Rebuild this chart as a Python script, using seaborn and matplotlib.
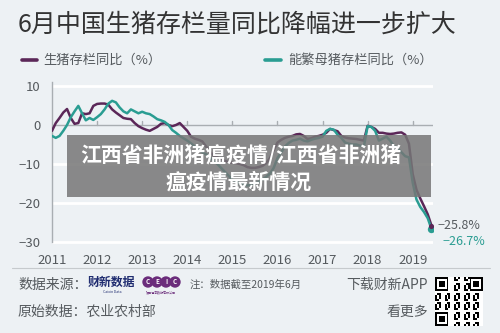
import numpy as np
import pandas as pd
import matplotlib
matplotlib.use("Agg")
import matplotlib.pyplot as plt
import seaborn as sns
from matplotlib.patches import Rectangle
from matplotlib.lines import Line2D

# ---------------- data ----------------
years = [2011, 2012, 2013, 2014, 2015, 2016, 2017, 2018, 2019]
year_labels = ["2011", "2012", "2013", "2014", "2015", "2016", "2017", "2018", "2019"]
y_ticks = [10, 0, -10, -20, -30]

hog_label = "生猪存栏同比（%）"
sow_label = "能繁母猪存栏同比（%）"

hog = [
    -1.5, 0.5, 1.8, 3.2, 4.1, 1.8, 0.3, 0.5, 3.0, 2.8, 3.0, 4.9,          # 2011
    5.4, 5.5, 5.5, 5.2, 4.0, 3.2, 2.5, 1.8, 1.6, 1.5, 0.5, -0.3,          # 2012
    -0.8, -1.2, -1.5, -1.0, -0.5, 0.3, 0.5, 0.0, -0.3, 0.0, 0.5, -0.5,    # 2013
    -1.5, -3.0, -3.5, -3.8, -4.2, -5.5, -6.8, -7.8, -8.3, -8.7, -9.2, -9.5,  # 2014
    -9.7, -9.8, -10.0, -10.3, -10.8, -11.0, -11.0, -10.8, -10.5, -9.8, -8.5, -6.5,  # 2015
    -4.5, -3.8, -3.3, -3.0, -2.8, -2.4, -2.3, -2.8, -3.6, -3.4, -3.0, -2.8,  # 2016
    -2.5, -2.0, -1.0, -1.3, -1.6, -2.8, -3.2, -3.4, -3.5, -3.6, -3.8, -4.0,  # 2017
    -0.2, -0.5, -1.0, -2.0, -2.0, -2.2, -2.3, -2.2, -2.0, -1.9, -2.5, -4.8,  # 2018
    -12.6, -16.6, -18.8, -20.8, -22.9, -25.8,                               # 2019
]
sow = [
    -2.8, -3.3, -2.8, -1.5, 0.0, 2.0, 3.5, 4.9, 3.0, 1.2, 1.8, 1.3,        # 2011
    2.0, 2.8, 4.0, 5.5, 6.2, 5.8, 4.5, 3.5, 3.0, 4.0, 3.5, 3.0,            # 2012
    3.4, 3.0, 2.8, 2.2, 1.5, 1.2, 0.8, 0.0, -1.3, -2.0, -2.8, -3.4,        # 2013
    -4.0, -4.7, -5.5, -6.2, -7.0, -7.5, -8.3, -9.2, -10.0, -11.0, -12.0, -13.0,  # 2014
    -14.0, -14.5, -15.0, -15.2, -15.5, -15.3, -15.0, -14.6, -14.0, -13.3, -12.5, -11.0,  # 2015
    -8.5, -7.0, -5.5, -4.6, -4.0, -3.8, -3.5, -4.0, -4.2, -3.8, -3.5, -3.3,  # 2016
    -3.0, -1.5, -1.0, -1.2, -2.5, -3.3, -4.5, -4.8, -5.0, -5.0, -5.3, -5.5,  # 2017
    -0.3, -0.5, -1.5, -4.0, -3.5, -3.0, -4.0, -5.4, -6.0, -7.0, -8.0, -8.3,  # 2018
    -14.8, -19.1, -21.0, -22.3, -23.9, -26.7,                               # 2019
]
month_pos = [2011 + i / 12 for i in range(len(hog))]

# ---------------- style ----------------
BG = "#edf1f4"
PURPLE = "#5b2758"
TEAL = "#2a9d92"
GRAY_TXT = "#555a5e"
AXIS_GRAY = "#a9aeb2"

sns.set_theme(style="white")
plt.rcParams["font.family"] = ["Noto Sans CJK SC", "DejaVu Sans"]
plt.rcParams["axes.unicode_minus"] = True

df = pd.DataFrame({"x": month_pos, hog_label: hog, sow_label: sow})
long = df.melt(id_vars="x", var_name="series", value_name="value")

W, H = 500, 333
fig = plt.figure(figsize=(5, 3.33), dpi=100, facecolor=BG)


def fx(px):
    return px / W


def fy(py):
    return 1 - py / H


ax = fig.add_axes([fx(52), fy(245.9), 381 / W, (245.9 - 82.1) / H])
ax.set_facecolor(BG)

for yv in [10, -10, -20, -30]:
    ax.axhline(yv, color="white", lw=2.0, zorder=0)
ax.axhline(0, color=AXIS_GRAY, lw=1.0, zorder=1)
for yr in years[1:]:
    ax.plot([yr, yr], [0, 0.9], color=AXIS_GRAY, lw=1.0, zorder=1)

sns.lineplot(data=long, x="x", y="value", hue="series",
             hue_order=[hog_label, sow_label],
             palette={hog_label: PURPLE, sow_label: TEAL},
             ax=ax, legend=False, linewidth=1.8, zorder=3)

# end markers and labels
ax.scatter([month_pos[-1]], [sow[-1]], s=28, color=TEAL, zorder=5, linewidths=0)
ax.scatter([month_pos[-1]], [hog[-1]], s=14, color=PURPLE, zorder=6, linewidths=0)
ax.annotate(f"{hog[-1]:.1f}%".replace("-", "−"), (month_pos[-1], hog[-1]),
            xytext=(4, 0), textcoords="offset points", ha="left", va="center",
            fontsize=9, color=GRAY_TXT, annotation_clip=False)
ax.annotate(f"{sow[-1]:.1f}%".replace("-", "−"), (month_pos[-1], sow[-1]),
            xytext=(8, -9), textcoords="offset points", ha="left", va="center",
            fontsize=9, color=TEAL, annotation_clip=False)

ax.set_xlim(2011, 2019.45)
ax.set_ylim(-31, 11)
ax.set_yticks(y_ticks)
ax.set_yticklabels([str(v).replace("-", "−") for v in y_ticks])
ax.set_xticks(years)
ax.set_xticklabels(year_labels)
ax.set_xlabel("")
ax.set_ylabel("")
for s in ["top", "right", "bottom"]:
    ax.spines[s].set_visible(False)
ax.spines["left"].set_color(AXIS_GRAY)
ax.spines["left"].set_linewidth(1.0)
ax.spines["left"].set_bounds(-30, 11)
ax.tick_params(axis="y", length=3, width=1, color=AXIS_GRAY, labelsize=9.5,
               labelcolor=GRAY_TXT, pad=5)
ax.tick_params(axis="x", length=0, labelsize=9.5, labelcolor=GRAY_TXT, pad=6)

# ---------------- title & legend ----------------
fig.text(fx(18), fy(25), "6月中国生猪存栏量同比降幅进一步扩大", fontsize=18,
         color="#333333", va="center", ha="left")
fig.add_artist(Line2D([fx(22), fx(37)], [fy(60), fy(60)], color=PURPLE, lw=2.6))
fig.text(fx(43), fy(60), hog_label, fontsize=9.5, color=GRAY_TXT, va="center")
fig.add_artist(Line2D([fx(265), fx(281)], [fy(60), fy(60)], color=TEAL, lw=2.6))
fig.text(fx(288), fy(60), sow_label, fontsize=9.5, color=GRAY_TXT, va="center")

# ---------------- overlay banner ----------------
fig.add_artist(Rectangle((fx(67), fy(197)), 364 / W, 62 / H, transform=fig.transFigure,
                         facecolor="#767676", alpha=0.85, edgecolor="none", zorder=10))
fig.text(fx(241), fy(155), "江西省非洲猪瘟疫情/江西省非洲猪", fontsize=15, fontweight="bold",
         color="white", ha="center", va="center", zorder=11)
fig.text(fx(239), fy(182), "瘟疫情最新情况", fontsize=15, fontweight="bold",
         color="white", ha="center", va="center", zorder=11)

# ---------------- footer ----------------
fig.add_artist(Line2D([fx(12), fx(490)], [fy(268), fy(268)], color="#c6cacd", lw=0.8))
fig.text(fx(18), fy(285), "数据来源：", fontsize=10, color=GRAY_TXT, va="center")
fig.text(fx(88), fy(282), "财新数据", fontsize=8.6, fontweight="bold", color="#1f2c70", va="center")
fig.text(fx(112), fy(292), "Caixin Data", fontsize=2.5, color="#1f2c70", va="center", ha="center")
for i, ch in enumerate(["C", "E", "I", "C"]):
    fig.text(fx(148 + 9 * i), fy(282), ch, fontsize=4.5, fontweight="bold", color="white",
             ha="center", va="center",
             bbox=dict(boxstyle="circle,pad=0.35", fc="#6b2d7b", ec="none"))
fig.text(fx(161), fy(292), "環亞經濟數據有限公司", fontsize=2.2, color="#6b2d7b", va="center", ha="center")
fig.text(fx(190), fy(285), "注：数据截至2019年6月", fontsize=7.5, color=GRAY_TXT, va="center")
fig.text(fx(428), fy(285), "下载财新APP", fontsize=10, color=GRAY_TXT, va="center", ha="right")
fig.text(fx(18), fy(312), "原始数据：农业农村部", fontsize=10, color=GRAY_TXT, va="center")
fig.text(fx(428), fy(312), "看更多", fontsize=10, color=GRAY_TXT, va="center", ha="right")

# decorative QR-like block
n = 25
qr = np.zeros((n, n))
ii, jj = np.meshgrid(np.arange(n), np.arange(n), indexing="ij")
qr[((ii * ii + 3 * jj + ii * jj) % 5) < 2] = 1
for (r0, c0) in [(0, 0), (0, n - 7), (n - 7, 0)]:
    qr[r0:r0 + 8 if r0 == 0 else r0 + 7, c0:c0 + 8 if c0 == 0 else c0 + 7] = 0
    qr[r0:r0 + 7, c0:c0 + 7] = 1
    qr[r0 + 1:r0 + 6, c0 + 1:c0 + 6] = 0
    qr[r0 + 2:r0 + 5, c0 + 2:c0 + 5] = 1
qax = fig.add_axes([fx(435), fy(326), 48 / W, 49 / H])
qax.imshow(qr, cmap="Greys", interpolation="nearest", aspect="auto")
qax.axis("off")

fig.savefig("out.png", dpi=100, facecolor=BG)
